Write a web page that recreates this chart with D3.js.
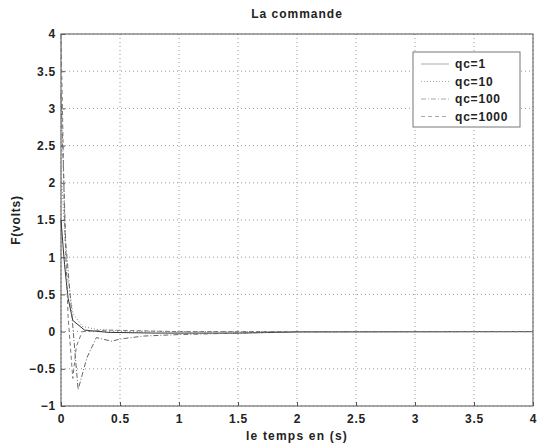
<!DOCTYPE html>
<html>
<head>
<meta charset="utf-8">
<script src="https://cdn.jsdelivr.net/npm/d3@7"></script>
<style>
body { margin:0; background:#fff; }
text { font-family: "Liberation Sans", Arial, sans-serif; }
</style>
</head>
<body>
<svg width="541" height="445"></svg>
<script>
// values
var seriesNames = ["qc=1", "qc=10", "qc=100", "qc=1000"]
var qc1 = [[0,1.5],[0.03,0.9],[0.06,0.45],[0.1,0.15],[0.2,0.02],[0.4,-0.01],[0.8,-0.02],[1.5,-0.02],[2,-0.005],[4,0]]
var qc10 = [[0,2.2],[0.05,0.8],[0.1,0.25],[0.18,0.07],[0.3,0.03],[0.5,0.01],[1,0],[4,0]]
var qc100 = [[0,3.2],[0.04,1.2],[0.08,0.45],[0.145,-0.78],[0.22,-0.35],[0.3,-0.08],[0.43,-0.13],[0.5,-0.1],[0.7,-0.06],[1,-0.04],[1.5,-0.02],[2,0],[4,0]]
var qc1000 = [[0,4],[0.03,1.5],[0.06,0.2],[0.1,-0.63],[0.13,-0.2],[0.18,0],[0.4,0.02],[1,0],[4,0]]
var xTicks = [0,0.5,1,1.5,2,2.5,3,3.5,4]
var yTicks = [-1,-0.5,0,0.5,1,1.5,2,2.5,3,3.5,4]

var margins = {top:34, right:8, bottom:39, left:61}
var screen = {width:541, height:445}
var width = screen.width - margins.left - margins.right
var height = screen.height - margins.top - margins.bottom

var svg = d3.select("svg")
var g = svg.append("g")
    .attr("transform", "translate("+margins.left+","+margins.top+")")

var xScale = d3.scaleLinear().domain([0,4]).range([0,width])
var yScale = d3.scaleLinear().domain([-1,4]).range([height,0])

// grid
g.selectAll(".vgrid").data(xTicks).enter().append("line")
    .attr("x1", function(d){return xScale(d)}).attr("x2", function(d){return xScale(d)})
    .attr("y1", 0).attr("y2", height)
    .attr("stroke", "#999").attr("stroke-dasharray", "1,3")
g.selectAll(".hgrid").data(yTicks).enter().append("line")
    .attr("y1", function(d){return yScale(d)}).attr("y2", function(d){return yScale(d)})
    .attr("x1", 0).attr("x2", width)
    .attr("stroke", "#999").attr("stroke-dasharray", "1,3")

// axes
var xAxis = d3.axisBottom(xScale).tickValues(xTicks).tickSize(-4).tickPadding(8).tickFormat(d3.format("~g"))
var yAxis = d3.axisLeft(yScale).tickValues(yTicks).tickSize(-4).tickPadding(5).tickFormat(d3.format("~g"))

var gx = g.append("g").attr("transform", "translate(0,"+height+")").call(xAxis)
var gy = g.append("g").call(yAxis)
gx.select(".domain").remove()
gy.select(".domain").remove()
g.selectAll(".tick text").attr("font-size", 12).attr("font-weight", "bold").attr("fill", "#222")
    .attr("letter-spacing", 0.8)
    .style("font-family", "Liberation Sans, Arial, sans-serif")
g.selectAll(".tick line").attr("stroke", "#555")

g.append("rect").attr("width", width).attr("height", height)
    .attr("fill", "none").attr("stroke", "#555").attr("stroke-width", 1)

// curves
var lineGen = d3.line()
    .x(function(d){return xScale(d[0])})
    .y(function(d){return yScale(d[1])})
var series = [qc1, qc10, qc100, qc1000]
var dashes = ["none", "1,2", "5,2,1,2", "4,3"]
var strokes = ["#333", "#888", "#666", "#777"]

series.forEach(function(s, i) {
    g.append("path").datum(s)
        .attr("d", lineGen)
        .attr("fill", "none")
        .attr("stroke", strokes[i])
        .attr("stroke-width", 1)
        .attr("stroke-dasharray", dashes[i])
})

// legend
var leg = svg.append("g").attr("transform", "translate(413,52)")
leg.append("rect").attr("width", 107).attr("height", 75)
    .attr("fill", "#fff").attr("stroke", "#777")
var rows = leg.selectAll(".row").data(seriesNames).enter().append("g")
    .attr("transform", function(d,i){return "translate(0,"+(12+i*17.5)+")"})
rows.append("line").attr("x1", 8).attr("x2", 36).attr("y1", 0).attr("y2", 0)
    .attr("stroke", "#aaa")
    .attr("stroke-dasharray", function(d,i){return dashes[i]})
rows.append("text").text(function(d){return d})
    .attr("x", 42).attr("y", 4).attr("font-size", 12).attr("font-weight", "bold").attr("fill", "#222")
    .attr("letter-spacing", 0.8)

// titles
svg.append("text").attr("x", margins.left + width/2).attr("y", 18)
    .attr("text-anchor", "middle").attr("font-size", 12).attr("font-weight", "bold").attr("fill", "#222")
    .attr("letter-spacing", 1)
    .text("La commande")
svg.append("text").attr("x", margins.left + width/2).attr("y", 440)
    .attr("text-anchor", "middle").attr("font-size", 12).attr("font-weight", "bold").attr("fill", "#222")
    .attr("letter-spacing", 1.2)
    .text("le temps en (s)")
svg.append("text").attr("transform", "translate(20,"+(margins.top+height/2)+") rotate(-90)")
    .attr("text-anchor", "middle").attr("font-size", 12).attr("font-weight", "bold").attr("fill", "#222")
    .attr("letter-spacing", 0.8)
    .text("F(volts)")
</script>
</body>
</html>
